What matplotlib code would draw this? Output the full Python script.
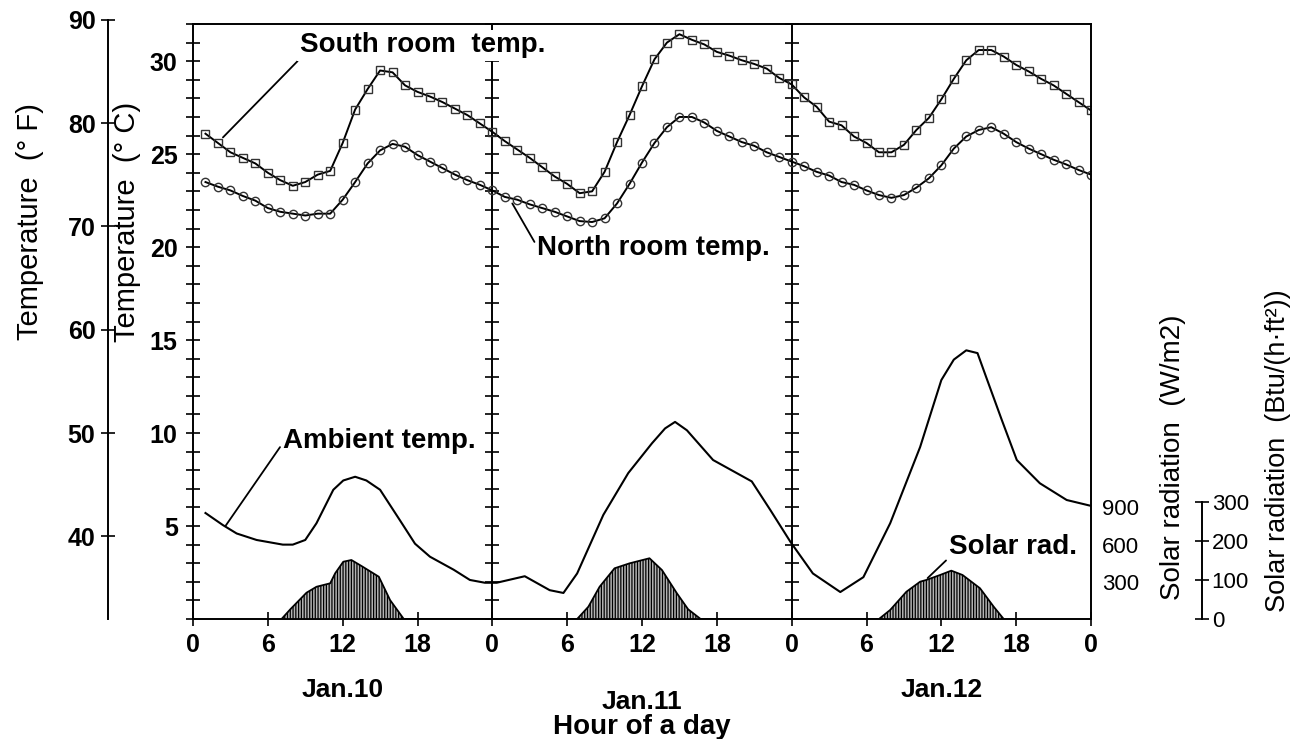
import matplotlib.pyplot as plt
import matplotlib.transforms as mtransforms
import numpy as np

plt.rcParams['font.family'] = ['Liberation Sans', 'DejaVu Sans']
plt.rcParams['hatch.linewidth'] = 0.9

# hourly room temperatures (deg C), hour 1 .. 72
hours = np.arange(1, 73)
south_room = [26.1, 25.6, 25.1, 24.8, 24.5, 24.0, 23.6, 23.3, 23.5, 23.9, 24.1, 25.6,
              27.4, 28.5, 29.5, 29.4, 28.7, 28.35, 28.1, 27.8, 27.45, 27.1, 26.65, 26.2,
              25.7, 25.25, 24.8, 24.3, 23.8, 23.4, 22.9, 23.0, 24.05, 25.65, 27.1, 28.65,
              30.1, 31.0, 31.45, 31.15, 30.9, 30.5, 30.3, 30.05, 29.85, 29.6, 29.1, 28.75,
              28.05, 27.55, 26.75, 26.55, 25.95, 25.6, 25.1, 25.1, 25.5, 26.3, 26.95, 27.95,
              29.05, 30.05, 30.6, 30.6, 30.25, 29.8, 29.45, 29.05, 28.7, 28.25, 27.8, 27.35]
north_room = [23.5, 23.25, 23.05, 22.75, 22.5, 22.1, 21.9, 21.8, 21.7, 21.8, 21.8, 22.55,
              23.5, 24.5, 25.2, 25.55, 25.4, 24.95, 24.6, 24.25, 23.9, 23.6, 23.35, 23.05,
              22.7, 22.55, 22.3, 22.1, 21.9, 21.65, 21.4, 21.35, 21.55, 22.35, 23.4, 24.55,
              25.6, 26.45, 27.0, 27.0, 26.7, 26.25, 25.95, 25.65, 25.45, 25.1, 24.85, 24.6,
              24.35, 24.05, 23.85, 23.5, 23.35, 23.05, 22.8, 22.65, 22.8, 23.2, 23.7, 24.4,
              25.3, 25.95, 26.3, 26.45, 26.1, 25.65, 25.3, 25.0, 24.7, 24.45, 24.15, 23.9]

# ambient temperature (deg C)
ambient_hour = [1.0, 2.4, 3.5, 5.1, 7.2, 8.0, 9.0, 9.9, 11.25, 12.05, 13.0, 13.9, 15.0,
                16.6, 17.8, 19.0, 20.9, 22.2, 23.4, 24.35, 26.6, 28.6, 29.7, 30.8, 32.9,
                34.9, 36.8, 37.85, 38.65, 39.6, 41.7, 44.8, 46.3, 47.9, 49.7, 51.9, 53.75,
                55.9, 58.3, 60.0, 61.0, 62.0, 62.9, 63.6, 64.85, 66.05, 67.9, 70.05, 71.9]
ambient_temp = [5.7, 5.05, 4.6, 4.25, 4.0, 4.0, 4.25, 5.15, 6.95, 7.45, 7.65, 7.45, 6.95,
                5.3, 4.05, 3.35, 2.65, 2.1, 1.95, 1.95, 2.3, 1.55, 1.4, 2.45, 5.6,
                7.85, 9.45, 10.25, 10.6, 10.15, 8.55, 7.4, 5.85, 4.15, 2.45, 1.45, 2.25,
                5.15, 9.25, 12.85, 13.95, 14.45, 14.3, 13.0, 10.7, 8.55, 7.3, 6.4, 6.1]

# solar radiation (W/m2)
solar_hour = [7.1, 7.8, 9.1, 9.9, 11.0, 11.4, 12.05, 12.7, 13.6, 14.9, 15.8, 16.9,
              30.8, 31.7, 32.6, 33.8, 35.0, 36.6, 37.6, 38.8, 39.7, 40.7,
              55.0, 55.9, 57.2, 58.3, 58.8, 59.9, 60.8, 61.7, 63.1, 64.2, 65.0]
solar_wm2 = [0, 78, 212, 260, 288, 369, 462, 476, 422, 341, 153, 0,
             0, 99, 260, 409, 449, 490, 395, 207, 78, 0,
             0, 73, 220, 301, 315, 355, 390, 355, 248, 99, 0]

day_labels = ['Jan.10', 'Jan.11', 'Jan.12']
day_centers = [12, 36, 60]
hour_ticks = np.arange(0, 73, 6)
hour_labels = ['0', '6', '12', '18'] * 3 + ['0']

W_PER_C = 150.0     # 300 W/m2 drawn as 2 deg C
BTU_TO_W = 3.1546

def c2f(c):
    return c * 9 / 5 + 32

def f2c(f):
    return (f - 32) * 5 / 9

fig = plt.figure(figsize=(12.94, 7.39), dpi=100)
ax_rect = [193 / 1294, 120 / 739, 898 / 1294, 595 / 739]
ax = fig.add_axes(ax_rect)

ax.plot(hours, south_room, color='black', lw=1.4, marker='s', ms=6,
        mfc='none', mec='#333333', mew=1.0)
ax.plot(hours, north_room, color='black', lw=1.4, marker='o', ms=6,
        mfc='none', mec='#333333', mew=1.0)
ax.plot(ambient_hour, ambient_temp, color='black', lw=1.5)

ax.set_xlim(0, 72)
ax.set_ylim(0, 32)
ax.set_xticks(hour_ticks, hour_labels)
ax.set_yticks([5, 10, 15, 20, 25, 30])
ax.set_yticks(np.arange(0, 33), minor=True)
ax.tick_params(axis='y', which='both', direction='inout', length=10, width=1.2,
               left=True, right=True, labelsize=18, pad=6)
ax.tick_params(axis='x', direction='inout', length=10, width=1.2, labelsize=18, pad=5)
for lab in ax.get_xticklabels() + ax.get_yticklabels():
    lab.set_fontweight('bold')
for s in ax.spines.values():
    s.set_linewidth(1.4)

# day dividers with their own ticks
for loc in (24 / 72, 48 / 72):
    div = ax.secondary_yaxis(loc)
    div.set_yticks(np.arange(0, 33), labels=[])
    div.tick_params(direction='inout', length=10, width=1.2)
    for s in div.spines.values():
        s.set_linewidth(1.4)

# solar radiation on its own scale
sol = ax.twinx()
sol.set_ylim(0, 32 * W_PER_C)
sol.fill_between(solar_hour, solar_wm2, 0, facecolor='#b4b4b4', edgecolor='black',
                 hatch='||||||', lw=1.3)
sol.set_yticks([300, 600, 900])
sol.tick_params(axis='y', length=0, labelsize=16, pad=8)
for s in sol.spines.values():
    s.set_visible(False)

btu = sol.secondary_yaxis(1.1236, functions=(lambda w: w / BTU_TO_W,
                                             lambda b: b * BTU_TO_W))
btu.set_yticks([0, 100, 200, 300])
btu.tick_params(direction='inout', length=10, width=1.2, labelsize=16, pad=2)
btu.spines['right'].set_bounds(0, 300)
btu.spines['right'].set_linewidth(1.4)

# Fahrenheit axis
fh = ax_rect[3] * f2c(90) / 32
axf = fig.add_axes([108 / 1294, ax_rect[1], 0.0001, fh])
axf.set_ylim(32, 90)
axf.set_xticks([])
axf.set_yticks([40, 50, 60, 70, 80, 90])
axf.tick_params(axis='y', direction='inout', length=10, width=1.2, labelsize=18, pad=4)
for lab in axf.get_yticklabels():
    lab.set_fontweight('bold')
for name, s in axf.spines.items():
    s.set_visible(name == 'left')
    s.set_linewidth(1.4)
axf.patch.set_visible(False)

# annotations
arrow = dict(arrowstyle='-', color='black', lw=1.3, shrinkA=0, shrinkB=0)
ax.annotate('South room  temp.', xy=(2.4, 25.9), xytext=(8.6, 30.85),
            fontsize=20, fontweight='bold', ha='left', va='center', zorder=10,
            bbox=dict(boxstyle='square,pad=0.1', fc='white', ec='none'),
            arrowprops=dict(arrow, relpos=(0, 0)))
ax.annotate('North room temp.', xy=(25.6, 22.35), xytext=(27.6, 19.95),
            fontsize=20, fontweight='bold', ha='left', va='center', zorder=10,
            arrowprops=dict(arrow, relpos=(0, 0.55)))
ax.annotate('Ambient temp.', xy=(2.6, 5.0), xytext=(7.2, 9.6),
            fontsize=20, fontweight='bold', ha='left', va='center', zorder=10,
            arrowprops=dict(arrow, relpos=(0, 0.4)))
ax.annotate('Solar rad.', xy=(58.9, 2.2), xytext=(60.6, 3.85),
            fontsize=20, fontweight='bold', ha='left', va='center', zorder=10,
            arrowprops=dict(arrow, relpos=(0, 0.1)))

# axis titles
fig.text(30 / 1294, 1 - 222 / 739, 'Temperature  (° F)', rotation=90,
         ha='center', va='center', fontsize=21)
fig.text(127 / 1294, 1 - 222 / 739, 'Temperature  (° C)', rotation=90,
         ha='center', va='center', fontsize=21)
fig.text(1173 / 1294, 1 - 457 / 739, 'Solar radiation  (W/m2)', rotation=90,
         ha='center', va='center', fontsize=20)
fig.text(1278 / 1294, 1 - 451 / 739, 'Solar radiation  (Btu/(h·ft²))', rotation=90,
         ha='center', va='center', fontsize=19.5)

trans = mtransforms.blended_transform_factory(ax.transData, fig.transFigure)
for lab, xc, yy in zip(day_labels, day_centers, [0.066, 0.050, 0.066]):
    ax.text(xc, yy, lab, transform=trans, ha='center', va='center',
            fontsize=19, fontweight='bold')
ax.text(36, 0.016, 'Hour of a day', transform=trans, ha='center', va='center',
        fontsize=20, fontweight='bold')

fig.savefig('out.png', dpi=100)
